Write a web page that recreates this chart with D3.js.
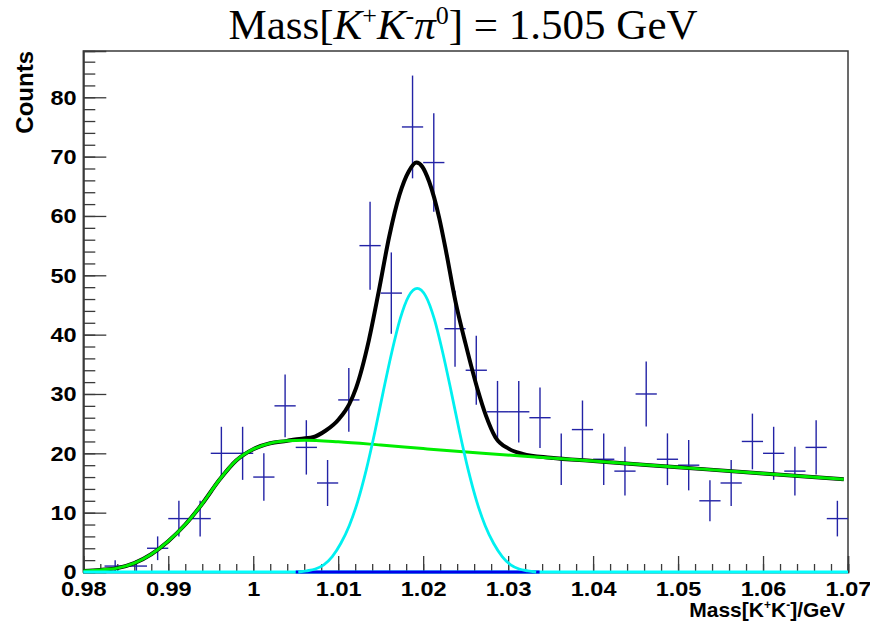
<!DOCTYPE html>
<html>
<head>
<meta charset="utf-8">
<script src="https://cdn.jsdelivr.net/npm/d3@7"></script>
<style>
body{margin:0;background:#fff;}
</style>
</head>
<body>
<svg width="870" height="628"></svg>
<script>
// histogram: 36 bins of 2.5 MeV between 0.98 and 1.07 GeV
var binStart = 0.98, binWidth = 0.0025;
var counts = [0,1,1,4,9,9,20,20,16,28,21,15,29,55,47,75,69,41,34,27,27,26,19,24,19,17,30,19,18,12,15,22,20,17,21,9];

// fit curves (x in GeV, y in counts)
var bkgX = [0.98,0.982,0.984,0.986,0.988,0.990,0.992,0.994,0.996,0.998,1.000,1.002,1.004,1.006,1.010,1.015,1.020,1.027,1.035,1.040,1.050,1.060,1.0695];
var bkgY = [0.15,0.35,0.65,1.5,3.0,5.2,8.0,11.5,15.5,18.8,20.7,21.7,22.1,22.2,21.95,21.4,20.8,20.0,19.2,18.7,17.65,16.6,15.65];

var totX = [0.98,0.982,0.984,0.986,0.988,0.990,0.992,0.994,0.996,0.998,1.000,1.002,1.004,1.0047,1.0070,1.0085,1.0101,1.0113,1.0121,1.0136,1.0148,1.0160,1.0172,1.0183,1.0192,1.0199,1.0207,1.0219,1.0227,1.0238,1.0250,1.0264,1.0274,1.0285,1.0301,1.0317,1.035,1.040,1.050,1.060,1.0695];
var totY = [0.15,0.35,0.65,1.5,3.0,5.2,8.0,11.5,15.5,18.8,20.7,21.7,22.1,22.3,22.7,23.8,25.8,28.3,31.0,39.0,47.5,56.5,63.5,67.5,69.0,68.3,65.8,59.6,54.0,45.6,38.4,30.8,26.3,22.7,20.75,19.9,19.25,18.7,17.65,16.6,15.65];

var sigX = [1.0053,1.0063,1.0073,1.0083,1.0093,1.0103,1.0113,1.0123,1.0133,1.0143,1.0153,1.0163,1.0173,1.0183,1.0193,1.0203,1.0213,1.0223,1.0233,1.0243,1.0253,1.0263,1.0273,1.0283,1.0293,1.0303,1.0313,1.0323,1.0333];
var sigY = [0.0,0.2,0.5,1.2,2.6,4.8,7.8,11.9,17.2,23.5,30.4,37.0,42.7,46.5,47.8,46.5,42.7,37.0,30.4,23.5,17.2,11.9,7.8,4.8,2.6,1.2,0.5,0.2,0.0];

// flat components lying on zero
var sigBaseX = [0.98,1.07], sigBaseY = [0,0];
var zeroX = [1.005,1.0337], zeroY = [0,0];

var xTicks = [0.98,0.99,1,1.01,1.02,1.03,1.04,1.05,1.06,1.07];
var yTicks = [0,10,20,30,40,50,60,70,80];

var svg = d3.select("svg");
var padL = 83.3, padR = 848, padT = 51, padB = 572;

var x = d3.scaleLinear().domain([0.98,1.07]).range([padL,padR]);
var y = d3.scaleLinear().domain([0,87.8]).range([padB,padT]);

var axisCol = "#3a3a3a";

// frame
svg.append("rect").attr("x",padL).attr("y",padT).attr("width",padR-padL).attr("height",padB-padT)
   .attr("fill","none").attr("stroke",axisCol).attr("stroke-width",1.5);

// x axis, ticks inward
var xMinor = d3.range(0.98,1.0701,0.002);
var gx = svg.append("g").attr("transform","translate(0,"+padB+")");
gx.append("g").call(d3.axisBottom(x).tickValues(xMinor).tickSize(-8).tickFormat(""));
gx.append("g").attr("class","lab").call(d3.axisBottom(x).tickValues(xTicks).tickSize(-16).tickPadding(9)
   .tickFormat(function(d){ return +d.toFixed(2); }));

// y axis
var yMinor = d3.range(0,87,2);
var gy = svg.append("g").attr("transform","translate("+padL+",0)");
gy.append("g").call(d3.axisLeft(y).tickValues(yMinor).tickSize(-12).tickFormat(""));
gy.append("g").attr("class","lab").call(d3.axisLeft(y).tickValues(yTicks).tickSize(-23).tickPadding(6));

svg.selectAll(".domain").attr("stroke",axisCol).attr("stroke-width",1.5);
svg.selectAll(".tick line").attr("stroke",axisCol).attr("stroke-width",1.3);
svg.selectAll(".lab .tick text").attr("fill","#000").attr("transform","scale(1.12,1)")
   .style("font-family","'Liberation Sans',Arial,sans-serif").style("font-weight","bold").style("font-size","21px");

// data with sqrt(N) errors
var pts = counts.map(function(c,i){ return {lo:binStart+i*binWidth, hi:binStart+(i+1)*binWidth, n:c}; })
               .filter(function(d){ return d.n>0; });
var dataCol = "#2323a6";
var gp = svg.append("g").attr("stroke",dataCol).attr("stroke-width",1.4);
gp.selectAll(".h").data(pts).enter().append("line")
  .attr("x1",function(d){return x(d.lo);}).attr("x2",function(d){return x(d.hi);})
  .attr("y1",function(d){return y(d.n);}).attr("y2",function(d){return y(d.n);});
gp.selectAll(".v").data(pts).enter().append("line")
  .attr("x1",function(d){return x((d.lo+d.hi)/2);}).attr("x2",function(d){return x((d.lo+d.hi)/2);})
  .attr("y1",function(d){return y(d.n+Math.sqrt(d.n));}).attr("y2",function(d){return y(Math.max(0,d.n-Math.sqrt(d.n)));});

// curves
function drawCurve(xs,ys,col,w){
  var line = d3.line().x(function(d){return x(d[0]);}).y(function(d){return y(d[1]);}).curve(d3.curveMonotoneX);
  svg.append("path").datum(d3.zip(xs,ys)).attr("d",line)
     .attr("fill","none").attr("stroke",col).attr("stroke-width",w).attr("stroke-linejoin","round");
}
drawCurve(totX,totY,"#000",4);
drawCurve(bkgX,bkgY,"#00ee00",3);
drawCurve(sigBaseX,sigBaseY,"#00ffff",3);
drawCurve(zeroX,zeroY,"#0000ee",3);
drawCurve(sigX,sigY,"#00f0f0",2.8);

// title
var title = svg.append("text").attr("x",463).attr("y",39).attr("text-anchor","middle")
  .style("font-family","'Liberation Serif','Times New Roman',serif").style("font-size","43px");
title.append("tspan").text("Mass[");
title.append("tspan").style("font-style","italic").text("K");
title.append("tspan").attr("dy",-15).style("font-size","26px").text("+");
title.append("tspan").attr("dy",15).style("font-style","italic").text("K");
title.append("tspan").attr("dy",-15).style("font-size","26px").text("-");
title.append("tspan").attr("dy",15).style("font-style","italic").text("π");
title.append("tspan").attr("dy",-15).style("font-size","26px").text("0");
title.append("tspan").attr("dy",15).text("] = 1.505 GeV");

// axis titles
svg.append("text").attr("transform","translate(33,"+padT+") rotate(-90)").attr("text-anchor","end")
  .style("font-family","'Liberation Sans',Arial,sans-serif").style("font-weight","bold").style("font-size","24px")
  .text("Counts");

var xt = svg.append("text").attr("x",845).attr("y",617).attr("text-anchor","end")
  .style("font-family","'Liberation Sans',Arial,sans-serif").style("font-weight","bold").style("font-size","21px");
xt.append("tspan").text("Mass[K");
xt.append("tspan").attr("dy",-8).style("font-size","12px").text("+");
xt.append("tspan").attr("dy",8).text("K");
xt.append("tspan").attr("dy",-8).style("font-size","12px").text("-");
xt.append("tspan").attr("dy",8).text("]/GeV");
</script>
</body>
</html>
